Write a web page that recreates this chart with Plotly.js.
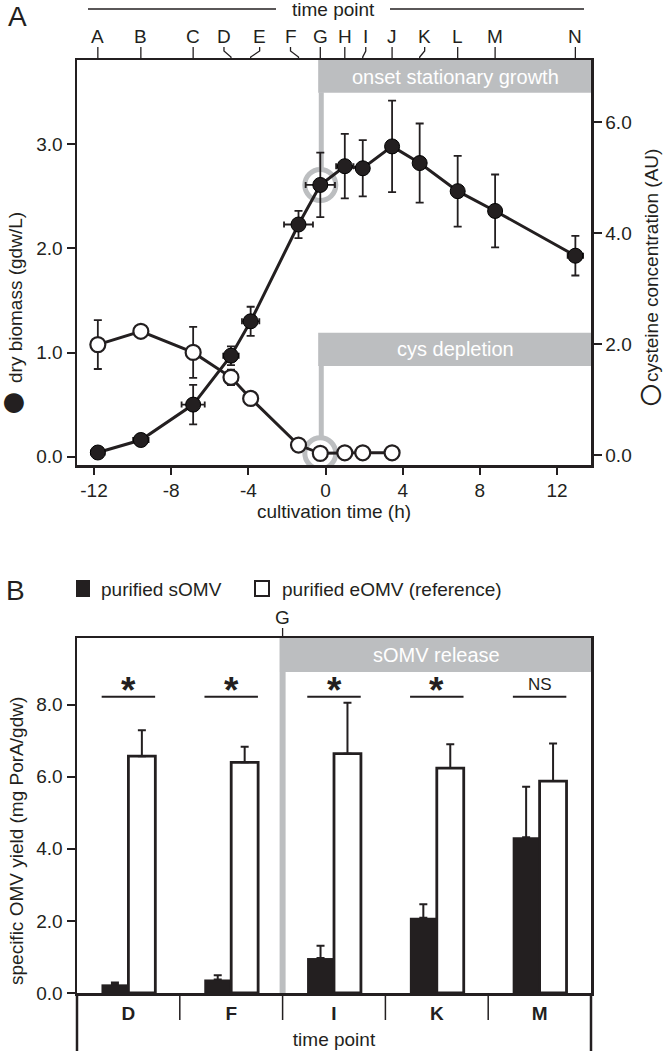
<!DOCTYPE html>
<html><head><meta charset="utf-8">
<script src="https://cdn.plot.ly/plotly-3.0.1.min.js"></script>
<style>html,body{margin:0;padding:0;background:#fff}#chart{width:664px;height:1051px}</style>
</head><body><div id="chart"></div>
<script>
// ---------- Panel A data ----------
const timePointLabels = ['A','B','C','D','E','F','G','H','I','J','K','L','M','N'];
const cultivationTime = [-11.8,-9.57,-6.86,-4.9,-3.88,-1.4,-0.27,1.0,1.93,3.45,4.88,6.85,8.79,12.95];
const cultivationTimeErr = [0.35,0.4,0.6,0.4,0.45,0.75,0.76,0.45,0.3,0.3,0.25,0.2,0.2,0.4];
const dryBiomass = [0.04,0.16,0.50,0.97,1.30,2.23,2.61,2.79,2.77,2.98,2.82,2.55,2.36,1.93];
const dryBiomassErr = [0.02,0.04,0.19,0.09,0.14,0.13,0.31,0.31,0.27,0.44,0.38,0.34,0.35,0.19];
const cysteineConc = [1.99,2.23,1.85,1.40,1.02,0.18,0.03,0.04,0.04,0.04]; // time points A-J
const cysteineErr = [0.44,0.08,0.46,0.14,0,0,0.09,0,0,0];
const xTicksA = [-12,-8,-4,0,4,8,12];
const yTicksBiomass = [0,1,2,3];
const yTicksCys = [0,2,4,6];
// ---------- Panel B data ----------
const omvCategories = ['D','F','I','K','M'];
const sOMVYield = [0.24,0.375,0.97,2.09,4.32];
const sOMVErr = [0.05,0.12,0.34,0.37,1.40];
const eOMVYield = [6.57,6.40,6.64,6.24,5.88];
const eOMVErr = [0.72,0.43,1.41,0.66,1.04];
const significance = ['*','*','*','*','NS'];
const yTicksOMV = [0,2,4,6,8];

// ---------- layout helpers (pixel -> paper) ----------
const M = {l:77, r:73, t:60, b:58};
const W = 664, H = 1051;
const PW = W - M.l - M.r, PH = H - M.t - M.b;
const px = v => (v - M.l) / PW;
const py = v => (H - M.b - v) / PH;
const ink = '#231f20', grey = '#bcbec0';
const FONT = 'Liberation Sans, Arial, Helvetica, sans-serif';
// pixel offsets of top tick labels (bent ticks)
const letterShiftPx = [0,0,0,-7,9,-8,0,0,3,0,5,0,0,0];

const traces = [];
// grey ring highlights at time point G
const gIdx = timePointLabels.indexOf('G');
traces.push({x:[cultivationTime[gIdx]], y:[dryBiomass[gIdx]], xaxis:'x', yaxis:'y', mode:'markers',
  marker:{symbol:'circle-open', size:31, color:grey, line:{width:5}}, hoverinfo:'skip', showlegend:false});
traces.push({x:[cultivationTime[gIdx]], y:[cysteineConc[gIdx]], xaxis:'x', yaxis:'y2', mode:'markers',
  marker:{symbol:'circle-open', size:31, color:grey, line:{width:5}}, hoverinfo:'skip', showlegend:false});
// biomass
traces.push({x:cultivationTime, y:dryBiomass, xaxis:'x', yaxis:'y', mode:'lines+markers', name:'dry biomass',
  line:{color:ink, width:3},
  marker:{size:15, color:ink, line:{color:'#000', width:1}},
  error_y:{type:'data', array:dryBiomassErr, color:ink, thickness:1.8, width:4},
  error_x:{type:'data', array:cultivationTimeErr, color:ink, thickness:1.8, width:3},
  showlegend:false});
// cysteine
traces.push({x:cultivationTime.slice(0, cysteineConc.length), y:cysteineConc, xaxis:'x', yaxis:'y2',
  mode:'lines+markers', name:'cysteine', line:{color:ink, width:3},
  marker:{size:15, color:'#fff', line:{color:ink, width:2.2}},
  error_y:{type:'data', array:cysteineErr, color:ink, thickness:1.8, width:4},
  showlegend:false});
// panel B bars
traces.push({type:'bar', x:omvCategories, y:sOMVYield, xaxis:'x2', yaxis:'y3', name:'purified sOMV',
  marker:{color:ink, line:{width:0}},
  error_y:{type:'data', symmetric:false, array:sOMVErr, arrayminus:sOMVErr.map(()=>0), color:ink, thickness:2, width:4},
  showlegend:false});
traces.push({type:'bar', x:omvCategories, y:eOMVYield, xaxis:'x2', yaxis:'y3', name:'purified eOMV (reference)',
  marker:{color:'#fff', line:{color:ink, width:2.8}},
  error_y:{type:'data', symmetric:false, array:eOMVErr, arrayminus:eOMVErr.map(()=>0), color:ink, thickness:2, width:4},
  showlegend:false});

const shapes = [], annotations = [];
// ---- Panel A grey boxes ----
shapes.push({type:'rect', xref:'x', yref:'y', x0:-0.38, x1:13.76, y0:3.495, y1:3.81, fillcolor:grey, line:{width:0}, layer:'below'});
shapes.push({type:'line', xref:'x', yref:'y', x0:-0.22, x1:-0.22, y0:2.77, y1:3.5, line:{color:grey, width:5}, layer:'below'});
shapes.push({type:'rect', xref:'x', yref:'y', x0:-0.38, x1:13.76, y0:0.87, y1:1.19, fillcolor:grey, line:{width:0}, layer:'below'});
shapes.push({type:'line', xref:'x', yref:'y', x0:-0.22, x1:-0.22, y0:0.19, y1:0.88, line:{color:grey, width:5}, layer:'below'});
annotations.push({xref:'paper', yref:'paper', x:px(455), y:py(77), text:'onset stationary growth', showarrow:false,
  font:{size:20, color:'#fff'}, xanchor:'center', yanchor:'middle'});
annotations.push({xref:'paper', yref:'paper', x:px(455), y:py(349), text:'cys depletion', showarrow:false,
  font:{size:20, color:'#fff'}, xanchor:'center', yanchor:'middle'});
// ---- Panel A top time-point axis ----
shapes.push({type:'line', xref:'paper', yref:'paper', x0:px(88), x1:px(276), y0:py(9), y1:py(9), line:{color:ink, width:1.5}});
shapes.push({type:'line', xref:'paper', yref:'paper', x0:px(390), x1:px(584), y0:py(9), y1:py(9), line:{color:ink, width:1.5}});
annotations.push({xref:'paper', yref:'paper', x:px(333), y:py(9), text:'time point', showarrow:false, font:{size:19, color:ink}, xanchor:'center', yanchor:'middle'});
cultivationTime.forEach((t, i) => {
  const s = letterShiftPx[i];
  const path = s === 0 ? 'M0,0 L0,13' : `M0,0 L0,3 L${s},9 L${s},13`;
  shapes.push({type:'path', xref:'x', yref:'paper', xsizemode:'pixel', ysizemode:'pixel', xanchor:t, yanchor:1,
    path:path, line:{color:ink, width:1.3}});
  annotations.push({xref:'x', yref:'paper', x:t, y:py(36), xshift:s, text:timePointLabels[i], showarrow:false,
    font:{size:19, color:ink}, xanchor:'center', yanchor:'middle'});
});
// axis titles (panel A) with series symbols
annotations.push({xref:'paper', yref:'paper', x:px(15), y:py(298), textangle:-90, showarrow:false,
  text:'dry biomass (gdw/L)', font:{size:19, color:ink}, xanchor:'center', yanchor:'middle'});
annotations.push({xref:'paper', yref:'paper', x:px(14), y:py(400), showarrow:false,
  text:'●', font:{size:46, color:ink}, xanchor:'center', yanchor:'middle'});
annotations.push({xref:'paper', yref:'paper', x:px(651), y:py(266), textangle:-90, showarrow:false,
  text:'cysteine concentration (AU)', font:{size:19, color:ink}, xanchor:'center', yanchor:'middle'});
annotations.push({xref:'paper', yref:'paper', x:px(651), y:py(393), showarrow:false,
  text:'○', font:{size:46, color:ink}, xanchor:'center', yanchor:'middle'});
// panel labels
annotations.push({xref:'paper', yref:'paper', x:px(17), y:py(17), text:'A', showarrow:false, font:{size:28, color:ink}, xanchor:'center', yanchor:'middle'});
annotations.push({xref:'paper', yref:'paper', x:px(15), y:py(590), text:'B', showarrow:false, font:{size:28, color:ink}, xanchor:'center', yanchor:'middle'});

// ---- Panel B ----
shapes.push({type:'rect', xref:'x2', yref:'y3', x0:1.47, x1:4.5, y0:8.91, y1:9.85, fillcolor:grey, line:{width:0}, layer:'below'});
shapes.push({type:'line', xref:'x2', yref:'y3', x0:1.5, x1:1.5, y0:0, y1:8.91, line:{color:grey, width:6}, layer:'below'});
annotations.push({xref:'x2', yref:'y3', x:3, y:9.38, text:'sOMV release', showarrow:false, font:{size:20, color:'#fff'}, xanchor:'center', yanchor:'middle'});
// G marker
shapes.push({type:'line', xref:'x2', yref:'paper', x0:1.5, x1:1.5, y0:py(638), y1:py(628), line:{color:ink, width:1.3}});
annotations.push({xref:'x2', yref:'paper', x:1.5, y:py(617), text:'G', showarrow:false, font:{size:19, color:ink}, xanchor:'center', yanchor:'middle'});
// significance
omvCategories.forEach((c, i) => {
  shapes.push({type:'line', xref:'x2', yref:'y3', x0:i-0.26, x1:i+0.26, y0:8.22, y1:8.22, line:{color:ink, width:2}});
  const isStar = significance[i] === '*';
  annotations.push({xref:'x2', yref:'y3', x:i, y:8.22, text:significance[i], showarrow:false,
    font:{size:isStar?37:17, color:ink, weight:isStar?'bold':'normal'}, xanchor:'center', yanchor:'bottom',
    yshift:isStar?-16:1});
});
// category separators
for (let i = 0; i < omvCategories.length - 1; i++) {
  shapes.push({type:'line', xref:'x2', yref:'paper', x0:i+0.5, x1:i+0.5, y0:0, y1:py(1020), line:{color:ink, width:1.5}});
}
// frame extension below axis
shapes.push({type:'line', xref:'paper', yref:'paper', x0:px(77), x1:px(77), y0:0, y1:py(1060), line:{color:ink, width:2.5}});
shapes.push({type:'line', xref:'paper', yref:'paper', x0:1, x1:1, y0:0, y1:py(1060), line:{color:ink, width:2.5}});
// legend
shapes.push({type:'rect', xref:'paper', yref:'paper', x0:px(76), x1:px(90), y0:py(597), y1:py(580), fillcolor:ink, line:{width:0}});
shapes.push({type:'rect', xref:'paper', yref:'paper', x0:px(255), x1:px(269), y0:py(596), y1:py(581), fillcolor:'#fff', line:{color:ink, width:2}});
annotations.push({xref:'paper', yref:'paper', x:px(99), y:py(589), text:'purified sOMV', showarrow:false, font:{size:19, color:ink}, xanchor:'left', yanchor:'middle'});
annotations.push({xref:'paper', yref:'paper', x:px(280), y:py(589), text:'purified eOMV (reference)', showarrow:false, font:{size:19, color:ink}, xanchor:'left', yanchor:'middle'});
annotations.push({xref:'paper', yref:'paper', x:px(16), y:py(841), textangle:-90, showarrow:false,
  text:'specific OMV yield (mg PorA/gdw)', font:{size:19, color:ink}, xanchor:'center', yanchor:'middle'});

const axBase = {showline:true, linecolor:ink, linewidth:2.5, ticks:'outside', tickcolor:ink, tickwidth:2,
  showgrid:false, zeroline:false, tickfont:{size:19, color:ink}, fixedrange:true};
const layout = {
  width:W, height:H, margin:M, paper_bgcolor:'#fff', plot_bgcolor:'rgba(0,0,0,0)',
  font:{family:FONT, color:ink}, showlegend:false, barmode:'group', bargap:0.476, bargroupgap:0,
  xaxis:Object.assign({}, axBase, {domain:[0,1], anchor:'y', range:[-12.88,13.76], tickvals:xTicksA,
    ticktext:xTicksA.map(v => String(v)), ticklen:7,
    mirror:true, title:{text:'cultivation time (h)', font:{size:19, color:ink}, standoff:2}}),
  yaxis:Object.assign({}, axBase, {domain:[py(465),1], anchor:'x', range:[-0.08,3.81], tickvals:yTicksBiomass, tickformat:'.1f', ticklen:8}),
  yaxis2:Object.assign({}, axBase, {overlaying:'y', side:'right', anchor:'x', range:[-0.18,7.12], tickvals:yTicksCys, tickformat:'.1f', ticklen:8}),
  xaxis2:Object.assign({}, axBase, {domain:[0,1], anchor:'y3', type:'category', categoryorder:'array', categoryarray:omvCategories,
    ticks:'', mirror:true, tickfont:{size:19, color:ink, weight:'bold'}, ticklabelstandoff:2,
    title:{text:'time point', font:{size:19, color:ink}, standoff:10}}),
  yaxis3:Object.assign({}, axBase, {domain:[0,py(638)], anchor:'x2', range:[0,9.85], tickvals:yTicksOMV, tickformat:'.1f', ticklen:8, mirror:true}),
  shapes:shapes, annotations:annotations
};
Plotly.newPlot('chart', traces, layout, {displayModeBar:false, staticPlot:true});
</script></body></html>
